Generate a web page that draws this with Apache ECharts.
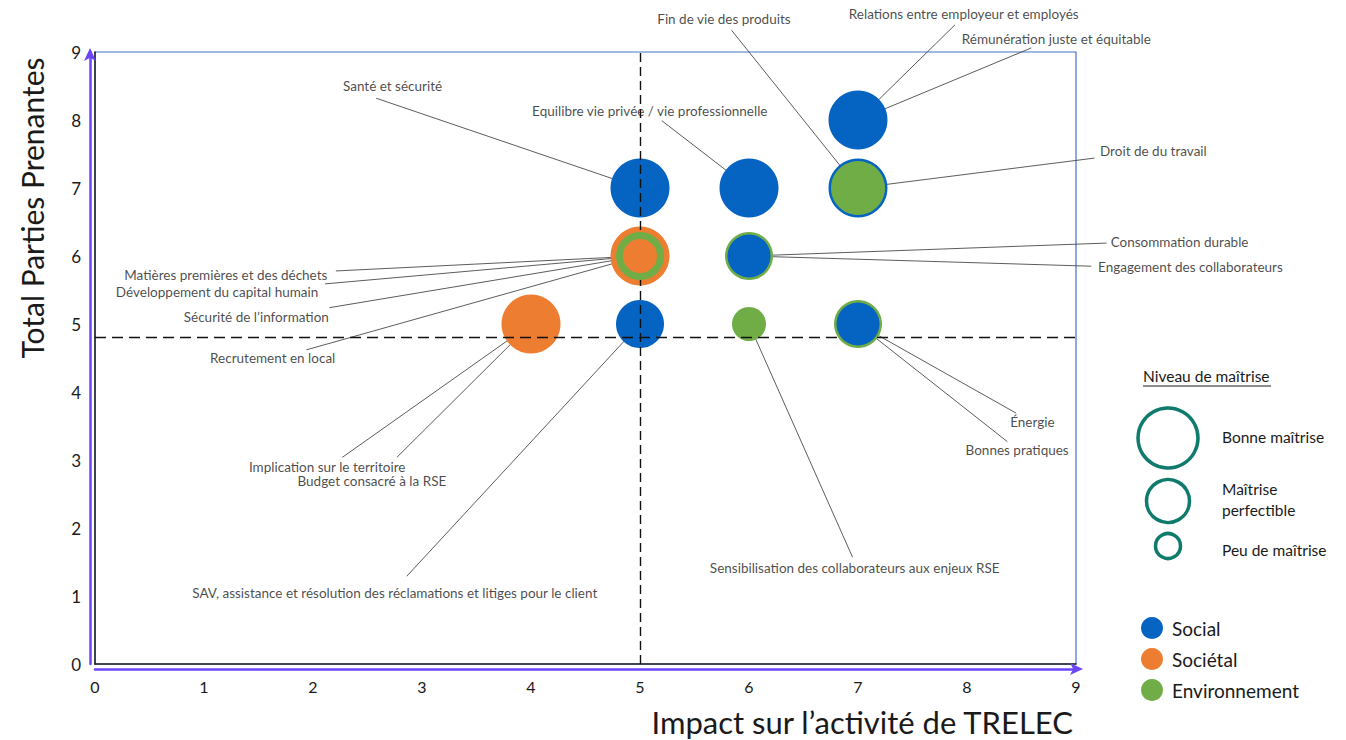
<!DOCTYPE html>
<html>
<head>
<meta charset="utf-8">
<script src="https://cdn.jsdelivr.net/npm/echarts@6/dist/echarts.min.js"></script>
<style>
html,body{margin:0;padding:0;background:#ffffff;}
#chart{width:1346px;height:740px;}
</style>
</head>
<body>
<div id="chart"></div>
<script>
// ---------------- DATA ----------------
const issueNames = [
  'Santé et sécurité',
  'Equilibre vie privée / vie professionnelle',
  'Relations entre employeur et employés',
  'Rémunération juste et équitable',
  'Droit de du travail',
  'Fin de vie des produits',
  'Consommation durable',
  'Engagement des collaborateurs',
  'Recrutement en local',
  'Matières premières et des déchets',
  'Développement du capital humain',
  'Sécurité de l’information',
  'Implication sur le territoire',
  'Budget consacré à la RSE',
  'SAV, assistance et résolution des réclamations et litiges pour le client',
  'Sensibilisation des collaborateurs aux enjeux RSE',
  'Énergie',
  'Bonnes pratiques'
];
const impactValues      = [5, 6, 7, 7, 7, 7, 6, 6, 5, 5, 5, 5, 4, 4, 5, 6, 7, 7];
const stakeholderValues = [7, 7, 8, 8, 7, 7, 6, 6, 6, 6, 6, 6, 5, 5, 5, 5, 5, 5];
const issueCategories = ['Social','Social','Social','Social','Social','Environnement',
  'Environnement','Social','Sociétal','Environnement','Sociétal','Sociétal',
  'Sociétal','Sociétal','Social','Environnement','Environnement','Social'];
const masteryLevels = ['Bonne','Bonne','Bonne','Bonne','Bonne','Bonne',
  'Perfectible','Perfectible','Bonne','Perfectible','Peu','Peu',
  'Bonne','Bonne','Perfectible','Peu','Perfectible','Perfectible'];
const categoryNames = ['Social', 'Sociétal', 'Environnement'];
const masteryKeys = ['Bonne', 'Perfectible', 'Peu'];
const masteryNames = ['Bonne maîtrise', 'Maîtrise\nperfectible', 'Peu de maîtrise'];
const xTickLabels = ['0','1','2','3','4','5','6','7','8','9'];
const yTickLabels = ['0','1','2','3','4','5','6','7','8','9'];
const thresholdImpact = 5;
const thresholdStakeholders = 4.8;
const xAxisTitle = 'Impact sur l’activité de TRELEC';
const yAxisTitle = 'Total Parties Prenantes';
const masteryTitle = 'Niveau de maîtrise';

// ---------------- LAYOUT (label anchors, in axis units) ----------------
const labelCenter = [[2.73,8.50],[5.09,8.13],[7.97,9.56],[8.82,9.19],[9.71,7.54],[5.77,9.49],
  [9.95,6.21],[10.05,5.84],[1.63,4.50],[1.20,5.72],[1.12,5.47],[1.48,5.10],
  [2.13,2.90],[2.54,2.69],[2.75,1.04],[6.97,1.41],[8.60,3.56],[8.46,3.15]];
const leaderStart = [[2.58,8.32],[5.20,7.99],[7.89,9.40],[8.59,9.06],[9.17,7.44],[5.84,9.32],
  [9.28,6.19],[9.14,5.85],[1.94,4.62],[2.21,5.78],[2.11,5.59],[2.15,5.24],
  [2.27,3.04],[2.77,3.04],[2.86,1.29],[6.95,1.57],[8.45,3.69],[8.37,3.27]];

// ---------------- STYLE ----------------
const catColors = {'Social':'#0563C1','Sociétal':'#ED7D31','Environnement':'#70AD47'};
const sizeByMastery = {Bonne:59, Perfectible:48, Peu:34};
const ringShrink = 5;
const FONT = 'Lato, "Open Sans", sans-serif';
const purple = '#6B45F6';
const teal = '#0F7B6C';

// ---------------- BUILD BUBBLES ----------------
const bubbles = [];
const seen = {};
issueNames.forEach((n, i) => {
  const key = [impactValues[i], stakeholderValues[i], issueCategories[i], masteryLevels[i]].join('|');
  if (!seen[key]) {
    seen[key] = true;
    bubbles.push({x: impactValues[i], y: stakeholderValues[i], cat: issueCategories[i],
      size: sizeByMastery[masteryLevels[i]], order: bubbles.length});
  }
});
const byPoint = {};
bubbles.forEach(b => { const k = b.x + '|' + b.y; (byPoint[k] = byPoint[k] || []).push(b); });
Object.values(byPoint).forEach(list => {
  list.sort((a, b) => (b.size - a.size) || (a.order - b.order));
  list.forEach((b, k) => {
    b.layer = k;
    const same = list.slice(0, k).filter(o => o.size === b.size).length;
    b.drawSize = b.size - ringShrink * same;
  });
});

const series = [];
// leader lines
series.push({
  type: 'lines', coordinateSystem: 'cartesian2d', xAxisIndex: 0, yAxisIndex: 0,
  z: 2, silent: true, clip: false, polyline: false,
  lineStyle: {color: '#4a4a4a', width: 0.9, opacity: 1},
  data: issueNames.map((n, i) => ({coords: [leaderStart[i], [impactValues[i], stakeholderValues[i]]]}))
});
// bubbles by category and layer
categoryNames.forEach(cat => {
  [0, 1, 2].forEach(layer => {
    const items = bubbles.filter(b => b.cat === cat && b.layer === layer);
    if (!items.length && layer > 0) return;
    series.push({
      name: cat, type: 'scatter', xAxisIndex: 0, yAxisIndex: 0, z: 4 + layer,
      symbol: 'circle',
      symbolSize: v => v[2],
      itemStyle: {color: catColors[cat], opacity: 1},
      emphasis: {disabled: true},
      data: items.map(b => [b.x, b.y, b.drawSize])
    });
  });
});
// dashed threshold lines
series.push({
  type: 'line', data: [], z: 9, silent: true,
  markLine: {
    silent: true, symbol: ['none', 'none'], animation: false,
    label: {show: false},
    data: [
      {xAxis: thresholdImpact, lineStyle: {type: [9, 5]}},
      {yAxis: thresholdStakeholders, lineStyle: {type: [11, 6]}}
    ],
    lineStyle: {color: '#111', width: 1.4}
  }
});
// issue labels
series.push({
  type: 'scatter', xAxisIndex: 0, yAxisIndex: 0, z: 12, clip: false, silent: true,
  symbolSize: 0.1, itemStyle: {color: 'rgba(0,0,0,0)'},
  label: {show: true, position: 'inside', formatter: '{b}', color: '#1a1a1a',
    fontSize: 13.5, fontFamily: FONT},
  data: issueNames.map((n, i) => ({name: n, value: labelCenter[i]}))
});

// ---------------- GRAPHICS: axis titles & mastery legend ----------------
const legendCx = 1168;
const masteryRadius = [30, 21.5, 12.5];
const masteryCy = [438, 501, 546];
const masteryTextY = [437, 499, 550];
const graphic = [
  {type: 'text', x: 1073, y: 722, style: {text: xAxisTitle, textAlign: 'right', textVerticalAlign: 'middle',
    font: '31px ' + FONT, fill: '#1a1a1a'}},
  {type: 'text', x: 32, y: 208, rotation: Math.PI / 2, style: {text: yAxisTitle, x: 0, y: 0,
    textAlign: 'center', textVerticalAlign: 'middle', font: '30px ' + FONT, fill: '#1a1a1a'}},
  {type: 'text', x: 1143, y: 376, style: {text: masteryTitle, textAlign: 'left', textVerticalAlign: 'middle',
    font: '15.5px ' + FONT, fill: '#1a1a1a'}},
  {type: 'line', shape: {x1: 1143, y1: 386, x2: 1271, y2: 386}, style: {stroke: '#1a1a1a', lineWidth: 1}}
];
masteryKeys.forEach((k, i) => {
  graphic.push({type: 'circle', shape: {cx: legendCx, cy: masteryCy[i], r: masteryRadius[i]},
    style: {fill: 'none', stroke: teal, lineWidth: 3.5}});
  graphic.push({type: 'text', x: 1222, y: masteryTextY[i], style: {text: masteryNames[i], textAlign: 'left',
    textVerticalAlign: 'middle', font: '15.5px ' + FONT, fill: '#1a1a1a', lineHeight: 21}});
});

const chart = echarts.init(document.getElementById('chart'), null, {renderer: 'svg'});
chart.setOption({
  animation: false,
  backgroundColor: '#ffffff',
  grid: {left: 95, right: 270, top: 52, bottom: 76, show: true, borderColor: '#4472C4', borderWidth: 1.2,
    backgroundColor: 'transparent'},
  xAxis: [
    {type: 'value', min: 0, max: 9, interval: 1, position: 'bottom',
      axisLine: {show: true, onZero: false, lineStyle: {color: '#222', width: 1.5}},
      axisTick: {show: false}, axisLabel: {show: false}, splitLine: {show: false}},
    {type: 'value', min: 0, max: 9, interval: 1, position: 'bottom', offset: 5,
      axisLine: {show: true, onZero: false, symbol: ['none', 'arrow'], symbolSize: [9, 13], symbolOffset: [0, 7],
        lineStyle: {color: purple, width: 2.5}},
      axisTick: {show: false}, splitLine: {show: false},
      axisLabel: {show: true, margin: 9, fontSize: 16, color: '#1a1a1a', fontFamily: FONT,
        formatter: v => xTickLabels[v]}}
  ],
  yAxis: [
    {type: 'value', min: 0, max: 9, interval: 1, position: 'left',
      axisLine: {show: true, onZero: false, lineStyle: {color: '#222', width: 1.5}},
      axisTick: {show: false}, axisLabel: {show: false}, splitLine: {show: false}},
    {type: 'value', min: 0, max: 9, interval: 1, position: 'left', offset: 5,
      axisLine: {show: true, onZero: false, symbol: ['none', 'arrow'], symbolSize: [9, 13], symbolOffset: [0, 4],
        lineStyle: {color: purple, width: 2.5}},
      axisTick: {show: false}, splitLine: {show: false},
      axisLabel: {show: true, margin: 9, fontSize: 17, color: '#1a1a1a', fontFamily: FONT,
        formatter: v => yTickLabels[v]}}
  ],
  legend: {
    data: categoryNames, orient: 'vertical', left: 1141, top: 617, padding: 0,
    itemWidth: 22, itemHeight: 22, itemGap: 9, icon: 'circle', selectedMode: false,
    textStyle: {fontSize: 19, color: '#1a1a1a', fontFamily: FONT, padding: [0, 0, 0, 4]}
  },
  graphic: graphic,
  series: series
});
</script>
</body>
</html>
